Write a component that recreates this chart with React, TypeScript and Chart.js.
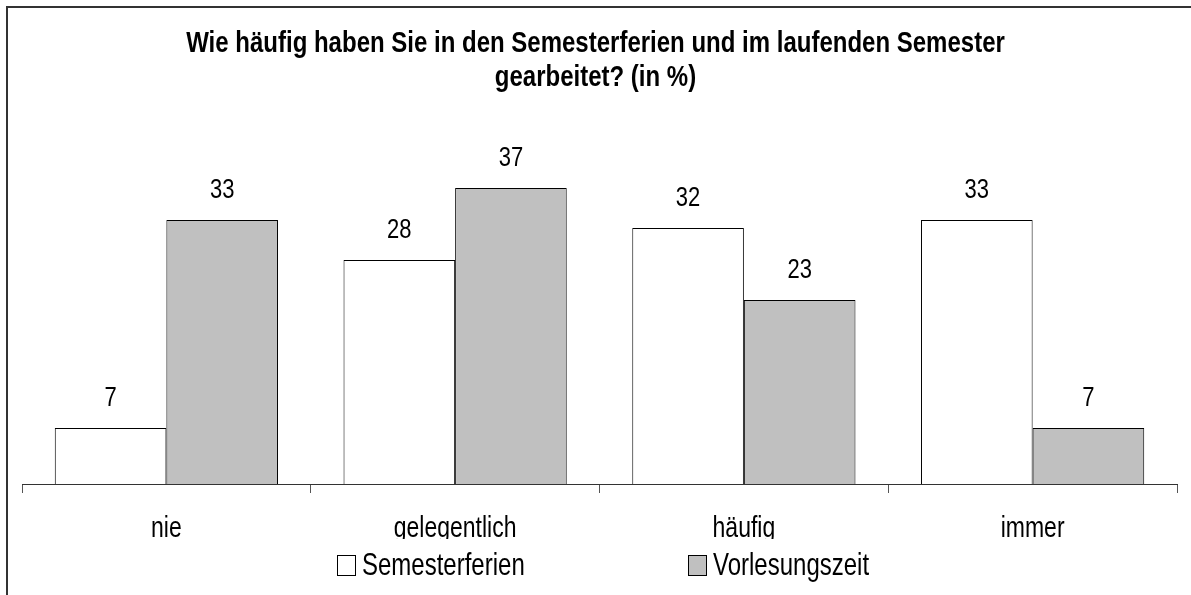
import React, { useEffect, useRef } from 'react';
import { Chart, registerables } from 'chart.js';

Chart.register(...registerables);

const FONT = '"Liberation Sans", Arial, Helvetica, sans-serif';

const titleLines = [
  'Wie häufig haben Sie in den Semesterferien und im laufenden Semester',
  'gearbeitet? (in %)',
];
const categories = ['nie', 'gelegentlich', 'häufig', 'immer'];
const seriesNames = ['Semesterferien', 'Vorlesungszeit'];
const semesterferien = [7, 28, 32, 33];
const vorlesungszeit = [33, 37, 23, 7];
const seriesColors = ['#ffffff', '#c0c0c0'];

// the reference's lettering is tall and narrow
const STRETCH = 1.27;
const TITLE_STRETCH = 1.2;

function stretchedText(ctx: CanvasRenderingContext2D, text: string, x: number, baseline: number, s: number) {
  ctx.save();
  ctx.translate(x, baseline);
  ctx.scale(1, s);
  ctx.fillText(text, 0, 0);
  ctx.restore();
}

export default function App() {
  const ref = useRef<HTMLCanvasElement | null>(null);

  useEffect(() => {
    if (!ref.current) return;

    const framePlugin = {
      id: 'frame',
      beforeDraw(chart: any) {
        const ctx = chart.ctx;
        ctx.save();
        ctx.fillStyle = '#ffffff';
        ctx.fillRect(0, 0, chart.width, chart.height);
        ctx.strokeStyle = '#333333';
        ctx.lineWidth = 2;
        ctx.beginPath();
        ctx.moveTo(7, chart.height + 10);
        ctx.lineTo(7, 7);
        ctx.lineTo(chart.width + 10, 7);
        ctx.stroke();
        ctx.restore();
      },
    };

    const titlePlugin = {
      id: 'stretchedTitle',
      afterDraw(chart: any) {
        const ctx = chart.ctx;
        ctx.save();
        ctx.font = `bold 24px ${FONT}`;
        ctx.fillStyle = '#000000';
        ctx.textAlign = 'center';
        ctx.textBaseline = 'alphabetic';
        titleLines.forEach((line, i) => {
          stretchedText(ctx, line, chart.width / 2, 52 + i * 34, TITLE_STRETCH);
        });
        ctx.restore();
      },
    };

    const valueLabelPlugin = {
      id: 'valueLabels',
      afterDatasetsDraw(chart: any) {
        const ctx = chart.ctx;
        ctx.save();
        ctx.font = `22px ${FONT}`;
        ctx.fillStyle = '#000000';
        ctx.textAlign = 'center';
        ctx.textBaseline = 'alphabetic';
        chart.data.datasets.forEach((ds: any, i: number) => {
          const meta = chart.getDatasetMeta(i);
          meta.data.forEach((bar: any, j: number) => {
            stretchedText(ctx, String(ds.data[j]), bar.x, bar.y - 22, STRETCH);
          });
        });
        ctx.restore();
      },
    };

    const categoryLabelPlugin = {
      id: 'categoryLabels',
      afterDraw(chart: any) {
        const ctx = chart.ctx;
        const xScale = chart.scales.x;
        ctx.save();
        // the labels are cut off just below their baseline in the reference
        ctx.beginPath();
        ctx.rect(0, xScale.top, chart.width, 539 - xScale.top);
        ctx.clip();
        ctx.font = `23px ${FONT}`;
        ctx.fillStyle = '#000000';
        ctx.textAlign = 'center';
        ctx.textBaseline = 'alphabetic';
        chart.data.labels.forEach((label: string, i: number) => {
          stretchedText(ctx, label, xScale.getPixelForTick(i), 537, STRETCH);
        });
        ctx.restore();
      },
    };

    const legendPlugin = {
      id: 'customLegend',
      afterDraw(chart: any) {
        const ctx = chart.ctx;
        const xs = [337, 688];
        const boxTop = 555;
        const w = 19;
        const h = 21;
        ctx.save();
        ctx.font = `24px ${FONT}`;
        ctx.textAlign = 'left';
        ctx.textBaseline = 'alphabetic';
        chart.data.datasets.forEach((ds: any, i: number) => {
          const x = xs[i];
          ctx.fillStyle = ds.backgroundColor;
          ctx.fillRect(x, boxTop, w, h);
          ctx.strokeStyle = '#000000';
          ctx.lineWidth = 1;
          ctx.strokeRect(x + 0.5, boxTop + 0.5, w - 1, h - 1);
          ctx.fillStyle = '#000000';
          stretchedText(ctx, ds.label, x + w + 6, 575, STRETCH);
        });
        ctx.restore();
      },
    };

    const chart = new Chart(ref.current, {
      type: 'bar',
      data: {
        labels: categories,
        datasets: [
          {
            label: seriesNames[0],
            data: semesterferien,
            backgroundColor: seriesColors[0],
            borderColor: '#000000',
            borderWidth: 1,
            categoryPercentage: 0.773,
            barPercentage: 1,
          },
          {
            label: seriesNames[1],
            data: vorlesungszeit,
            backgroundColor: seriesColors[1],
            borderColor: '#000000',
            borderWidth: 1,
            categoryPercentage: 0.773,
            barPercentage: 1,
          },
        ],
      },
      options: {
        responsive: false,
        animation: false,
        devicePixelRatio: 1,
        layout: { padding: { left: 22, right: 14, top: 164, bottom: 102 } },
        plugins: {
          legend: { display: false },
          tooltip: { enabled: false },
          title: { display: false },
        },
        scales: {
          x: {
            grid: {
              display: true,
              drawOnChartArea: false,
              drawTicks: true,
              tickLength: 9,
              color: '#555555',
              offset: true,
            },
            border: { display: true, color: '#333333', width: 1 },
            ticks: { display: false },
          },
          y: {
            display: false,
            min: 0,
            max: 40,
          },
        },
      },
      plugins: [framePlugin, valueLabelPlugin, categoryLabelPlugin, legendPlugin, titlePlugin],
    });

    return () => chart.destroy();
  }, []);

  return (
    <div style={{ position: 'fixed', left: 0, top: 0, width: 1191, height: 595, background: '#fff' }}>
      <canvas ref={ref} width={1191} height={595} style={{ display: 'block' }} />
    </div>
  );
}
